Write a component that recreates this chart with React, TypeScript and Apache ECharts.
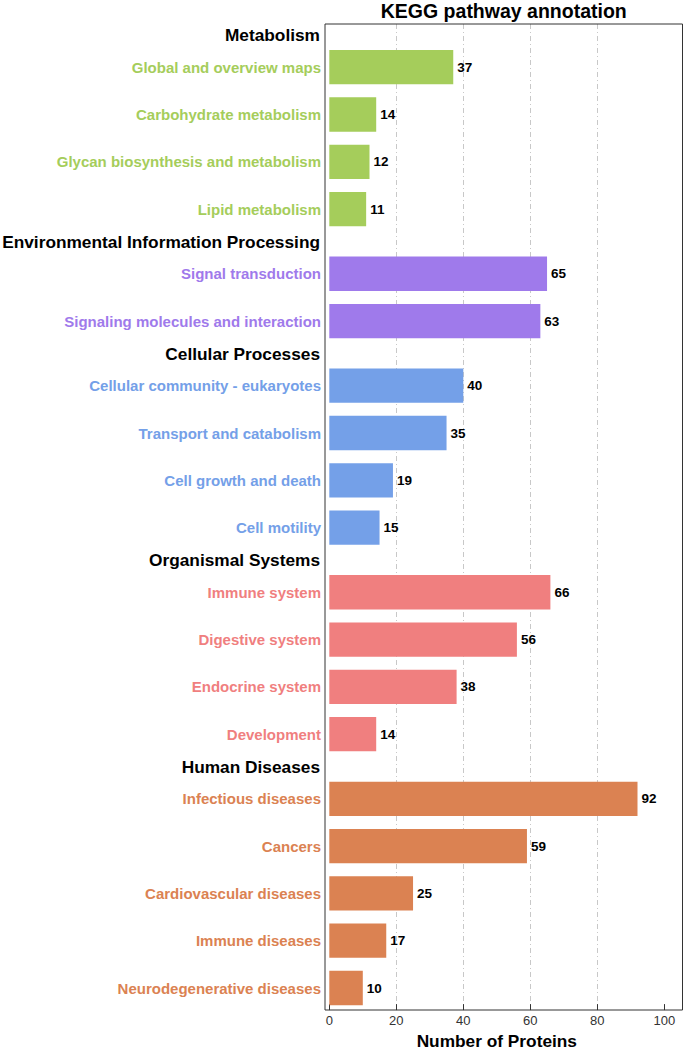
import React, { useEffect, useRef } from "react";
import * as echarts from "echarts";

// ---------- data ----------
const groupNames = [
  "Metabolism",
  "Environmental Information Processing",
  "Cellular Processes",
  "Organismal Systems",
  "Human Diseases",
];
const groupColors = ["#A5CD5B", "#9F7AEB", "#74A0E8", "#F07F7F", "#DB8252"];

const metabolismCats = [
  "Global and overview maps",
  "Carbohydrate metabolism",
  "Glycan biosynthesis and metabolism",
  "Lipid metabolism",
];
const metabolismVals = [37, 14, 12, 11];

const envCats = ["Signal transduction", "Signaling molecules and interaction"];
const envVals = [65, 63];

const cellularCats = [
  "Cellular community - eukaryotes",
  "Transport and catabolism",
  "Cell growth and death",
  "Cell motility",
];
const cellularVals = [40, 35, 19, 15];

const organismalCats = ["Immune system", "Digestive system", "Endocrine system", "Development"];
const organismalVals = [66, 56, 38, 14];

const diseaseCats = [
  "Infectious diseases",
  "Cancers",
  "Cardiovascular diseases",
  "Immune diseases",
  "Neurodegenerative diseases",
];
const diseaseVals = [92, 59, 25, 17, 10];

const groupCats = [metabolismCats, envCats, cellularCats, organismalCats, diseaseCats];
const groupVals = [metabolismVals, envVals, cellularVals, organismalVals, diseaseVals];

const xMin = 0;
const xMax = 100;
const xInterval = 20;

const titleText = "KEGG pathway annotation";
const xAxisName = "Number of Proteins";

// ---------- layout ----------
const W = 685;
const H = 1054;
const FONT = '"Liberation Sans", Arial, Helvetica, sans-serif';
const frame = { left: 325, top: 24, right: W - 682.5, bottom: H - 1010 };
const plotLeft = 329.3;
const plotRight = W - 664.3;
const rowH = 47.3;
const headerGap = 17.35;
const firstTop = 43.55;

export default function App() {
  const ref = useRef<HTMLDivElement>(null);

  useEffect(() => {
    const chart = echarts.init(ref.current!, null, { renderer: "svg" });

    const grids: any[] = [
      {
        left: frame.left,
        right: frame.right,
        top: frame.top,
        bottom: frame.bottom,
        show: true,
        borderColor: "#333333",
        borderWidth: 1,
        backgroundColor: "transparent",
        z: 5,
      },
      {
        left: plotLeft,
        right: plotRight,
        top: frame.top,
        bottom: frame.bottom,
      },
    ];
    const xAxes: any[] = [
      { type: "value", gridIndex: 0, show: false, min: 0, max: 1 },
      {
        type: "value",
        gridIndex: 1,
        min: xMin,
        max: xMax,
        interval: xInterval,
        position: "bottom",
        name: xAxisName,
        nameLocation: "middle",
        nameGap: 26,
        nameTextStyle: {
          fontFamily: FONT,
          fontWeight: "bold",
          fontSize: 17.3,
          color: "#000",
        },
        axisLine: { show: false },
        axisTick: { show: true, length: 6, lineStyle: { color: "#333", width: 1 } },
        axisLabel: { fontFamily: FONT, fontSize: 13, color: "#333", margin: 10 },
        splitLine: {
          show: true,
          showMinLine: false,
          showMaxLine: false,
          lineStyle: { color: "#c8c8c8", width: 1, type: [5, 3, 1, 3] },
        },
      },
    ];
    const yAxes: any[] = [
      { type: "value", gridIndex: 0, show: false, min: 0, max: 1 },
      { type: "value", gridIndex: 1, show: false, min: 0, max: 1 },
    ];
    const series: any[] = [];
    const graphics: any[] = [
      {
        type: "text",
        x: (frame.left + (W - frame.right)) / 2,
        y: 11,
        style: {
          text: titleText,
          fill: "#000",
          fontFamily: FONT,
          fontWeight: "bold",
          fontSize: 19.5,
          align: "center",
          verticalAlign: "middle",
        },
      },
    ];

    let top = firstTop;
    groupCats.forEach((cats, gi) => {
      const h = cats.length * rowH;
      const idx = gi + 2;
      grids.push({ left: plotLeft, right: plotRight, top, height: h });
      xAxes.push({ type: "value", gridIndex: idx, min: xMin, max: xMax, show: false });
      yAxes.push({
        type: "category",
        gridIndex: idx,
        inverse: true,
        data: cats,
        axisLine: { show: false },
        axisTick: { show: false },
        splitLine: { show: false },
        axisLabel: {
          color: groupColors[gi],
          fontFamily: FONT,
          fontWeight: "bold",
          fontSize: 15,
          margin: 8.3,
        },
      });
      series.push({
        type: "bar",
        xAxisIndex: idx,
        yAxisIndex: idx,
        data: groupVals[gi],
        barWidth: 34.3,
        itemStyle: { color: groupColors[gi] },
        label: {
          show: true,
          position: "right",
          distance: 4,
          color: "#000",
          fontFamily: FONT,
          fontWeight: "bold",
          fontSize: 13.5,
        },
      });
      graphics.push({
        type: "text",
        x: 320,
        y: top - headerGap / 2 + 0.5,
        style: {
          text: groupNames[gi],
          fill: "#000",
          fontFamily: FONT,
          fontWeight: "bold",
          fontSize: 17.3,
          align: "right",
          verticalAlign: "middle",
        },
      });
      top += h + headerGap;
    });

    chart.setOption({
      animation: false,
      backgroundColor: "#ffffff",
      textStyle: { fontFamily: FONT },
      grid: grids,
      xAxis: xAxes,
      yAxis: yAxes,
      series,
      graphic: graphics,
    });

    return () => chart.dispose();
  }, []);

  return (
    <div
      ref={ref}
      style={{ position: "fixed", left: 0, top: 0, width: W, height: H }}
    />
  );
}
